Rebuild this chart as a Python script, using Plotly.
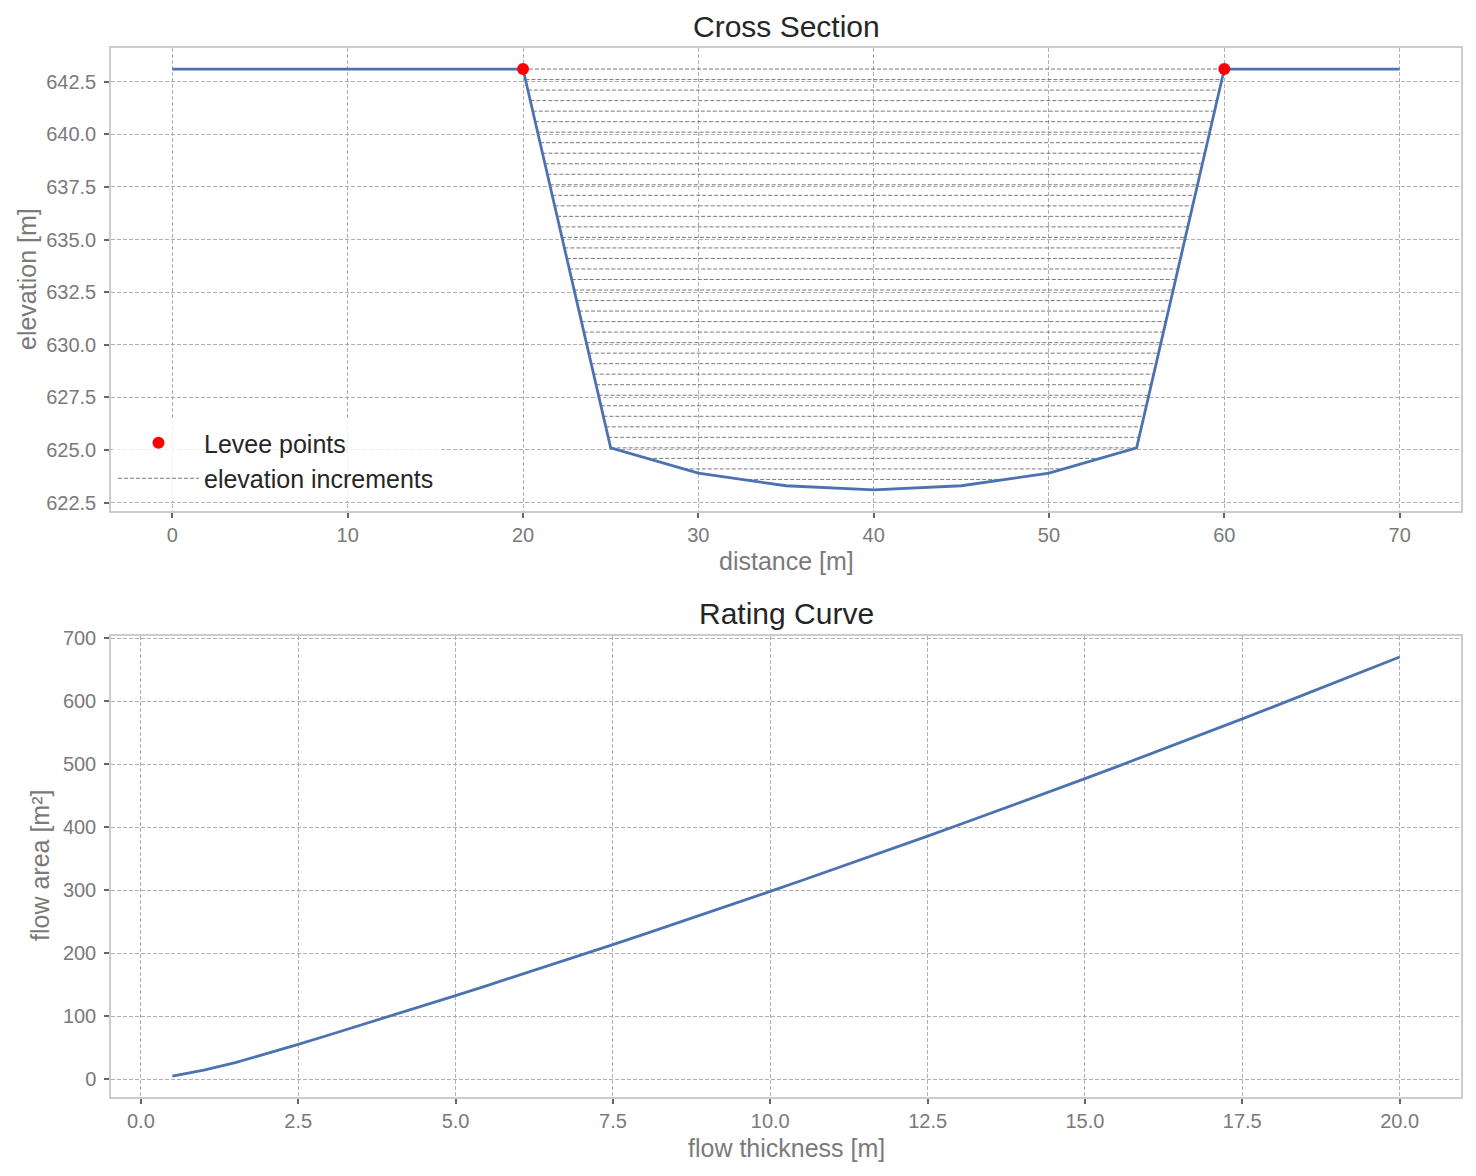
import numpy as np
import plotly.graph_objects as go
from plotly.subplots import make_subplots

# cross section geometry
distance = [0, 20, 25, 30, 35, 40, 45, 50, 55, 60, 70]
elevation = [643.1, 643.1, 625.1, 623.9, 623.3, 623.1, 623.3, 623.9, 625.1, 643.1, 643.1]

levee_x = [20, 60]
levee_z = [643.1, 643.1]

# water levels drawn as increments (every 0.5 m above the bed)
levels = [623.6, 624.1, 624.6, 625.1, 625.6, 626.1, 626.6, 627.1, 627.6, 628.1,
          628.6, 629.1, 629.6, 630.1, 630.6, 631.1, 631.6, 632.1, 632.6, 633.1,
          633.6, 634.1, 634.6, 635.1, 635.6, 636.1, 636.6, 637.1, 637.6, 638.1,
          638.6, 639.1, 639.6, 640.1, 640.6, 641.1, 641.6, 642.1, 642.6, 643.1]

# rating curve
thickness = [0.5, 1.0, 1.5, 2.0, 2.5, 3.0, 3.5, 4.0, 4.5, 5.0,
             5.5, 6.0, 6.5, 7.0, 7.5, 8.0, 8.5, 9.0, 9.5, 10.0,
             10.5, 11.0, 11.5, 12.0, 12.5, 13.0, 13.5, 14.0, 14.5, 15.0,
             15.5, 16.0, 16.5, 17.0, 17.5, 18.0, 18.5, 19.0, 19.5, 20.0]
flow_area = [4.75, 14.2, 26.0, 40.0, 55.1, 70.3, 85.6, 101.1, 116.7, 132.5,
             148.4, 164.4, 180.6, 196.9, 213.4, 230.0, 246.7, 263.6, 280.6, 297.8,
             315.1, 332.5, 350.1, 367.8, 385.6, 403.6, 421.7, 440.0, 458.4, 476.9,
             495.6, 514.4, 533.4, 552.5, 571.7, 591.1, 610.6, 630.3, 650.1, 670.0]

BLUE = "#4c72b0"
GRID = "#b0b0b0"
FRAME = "#cccccc"
TXT = "#7a7a7a"
DARK = "#262626"
FONT = "Liberation Sans"
# page body has an 8px margin, so the figure is a bit smaller than the window
OFF = 8
W, H = 1476 - 2 * OFF, 1176 - 2 * OFF


def px(x):
    return (x - OFF) / W


def py(y):
    return 1 - (y - OFF) / H


# left / right bank of each increment
lx = np.array(distance[1:6])
lz = np.array(elevation[1:6])
rx = np.array(distance[5:10])
rz = np.array(elevation[5:10])
inc_x, inc_y = [], []
for lv in levels:
    a = np.interp(lv, lz[::-1], lx[::-1])
    b = np.interp(lv, rz, rx)
    inc_x += [a, b, None]
    inc_y += [lv, lv, None]

fig = make_subplots(rows=2, cols=1)

fig.add_trace(go.Scatter(x=inc_x, y=inc_y, mode="lines", name="elevation increments",
                         line=dict(color="#6a6a6a", width=0.9, dash="4px,2px"),
                         legendrank=2), row=1, col=1)
fig.add_trace(go.Scatter(x=distance, y=elevation, mode="lines", showlegend=False,
                         line=dict(color=BLUE, width=2.8)), row=1, col=1)
fig.add_trace(go.Scatter(x=levee_x, y=levee_z, mode="markers", name="Levee points",
                         marker=dict(color="red", size=12), legendrank=1), row=1, col=1)

fig.add_trace(go.Scatter(x=thickness, y=flow_area, mode="lines", showlegend=False,
                         line=dict(color=BLUE, width=2.8)), row=2, col=1)

axis_style = dict(showgrid=True, gridcolor=GRID, griddash="4px,2px", gridwidth=0.8,
                  showline=True, linecolor=FRAME, linewidth=1.5, mirror=True,
                  ticks="outside", tickcolor="#666666", ticklen=5, tickwidth=1.5,
                  tickfont=dict(size=20, color=TXT, family=FONT),
                  zeroline=False, automargin=False)

fig.update_xaxes(**axis_style)
fig.update_yaxes(**axis_style, ticklabelstandoff=4)


def note(text, x, y, size, color, angle=0):
    return dict(text=text, x=px(x), y=py(y), xref="paper", yref="paper",
                xanchor="center", yanchor="middle",
                showarrow=False, textangle=angle,
                font=dict(size=size, color=color, family=FONT))


fig.update_layout(
    width=W, height=H,
    margin=dict(l=0, r=0, t=0, b=0),
    plot_bgcolor="white", paper_bgcolor="white",
    font=dict(family=FONT, color=TXT),
    xaxis=dict(domain=[px(111), px(1461)], range=[-3.5, 73.5], dtick=10),
    yaxis=dict(domain=[py(511), py(48)], range=[622.1, 644.1], tick0=622.5, dtick=2.5,
               tickformat=".1f"),
    xaxis2=dict(domain=[px(111), px(1461)], range=[-0.475, 20.975], dtick=2.5, tickformat=".1f"),
    yaxis2=dict(domain=[py(1097), py(636)], range=[-28.5, 703.3], dtick=100),
    legend=dict(x=px(113), y=py(420), xanchor="left", yanchor="top",
                bgcolor="rgba(255,255,255,0.8)", font=dict(size=25, color=DARK, family=FONT),
                itemwidth=81, tracegroupgap=0),
    annotations=[
        note("Cross Section", 786, 27, 30, DARK),
        note("Rating Curve", 786, 613, 30, DARK),
        note("distance [m]", 786, 561, 25, TXT),
        note("flow thickness [m]", 786, 1148, 25, TXT),
        note("elevation [m]", 27, 279, 25, TXT, -90),
        note("flow area [m²]", 40, 866, 25, TXT, -90),
    ],
)

fig.write_html("out.html")
